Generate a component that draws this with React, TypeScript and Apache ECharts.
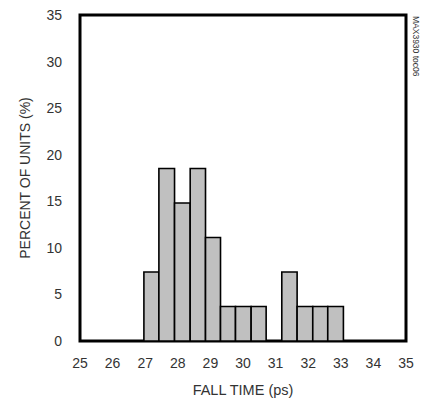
import React, { useEffect, useRef } from "react";
import * as echarts from "echarts";

// Histogram bin edges (ps) as drawn in the reference
const binEdges = [26.96, 27.42, 27.9, 28.38, 28.85, 29.31, 29.77, 30.25, 30.71, 31.19, 31.66, 32.14, 32.6, 33.08];
// Percent of units per bin (27 units total)
const percents = [7.41, 18.52, 14.81, 18.52, 11.11, 3.7, 3.7, 3.7, 0, 7.41, 3.7, 3.7, 3.7];

const xMin = 25;
const xMax = 35;
const yMin = 0;
const yMax = 35;

const FONT = "'Liberation Sans', Arial, sans-serif";

export default function App() {
  const ref = useRef<HTMLDivElement>(null);
  useEffect(() => {
    if (!ref.current) return;
    const chart = echarts.init(ref.current, null, { renderer: "svg" });
    const data = percents.map((v, i) => [binEdges[i], binEdges[i + 1], v]);
    chart.setOption({
      animation: false,
      backgroundColor: "#fff",
      grid: {
        left: 80,
        top: 15,
        width: 326,
        height: 326,
        show: true,
        borderColor: "#000",
        borderWidth: 3,
        backgroundColor: "transparent",
      },
      xAxis: {
        type: "value",
        min: xMin,
        max: xMax,
        interval: 1,
        axisLine: { show: false },
        axisTick: { show: false },
        splitLine: { show: false },
        axisLabel: { color: "#333", fontSize: 14, fontFamily: FONT, margin: 15 },
        name: "FALL TIME (ps)",
        nameLocation: "middle",
        nameGap: 41,
        nameTextStyle: { color: "#333", fontSize: 14.5, fontFamily: FONT },
      },
      yAxis: {
        type: "value",
        min: yMin,
        max: yMax,
        interval: 5,
        axisLine: { show: false },
        axisTick: { show: false },
        splitLine: { show: false },
        axisLabel: { color: "#333", fontSize: 14, fontFamily: FONT, margin: 18 },
        name: "PERCENT OF UNITS (%)",
        nameLocation: "middle",
        nameGap: 48,
        nameTextStyle: { color: "#333", fontSize: 14, fontFamily: FONT },
      },
      series: [
        {
          type: "custom",
          data,
          encode: { x: [0, 1], y: 2 },
          renderItem: (params: any, api: any) => {
            const v = api.value(2);
            if (!v) return null;
            const p0 = api.coord([api.value(0), 0]);
            const p1 = api.coord([api.value(1), v]);
            return {
              type: "rect",
              shape: { x: p0[0], y: p1[1], width: p1[0] - p0[0], height: p0[1] - p1[1] },
              style: { fill: "#c0c0c0", stroke: "#000", lineWidth: 1.6 },
            };
          },
        },
      ],
      graphic: [
        {
          type: "text",
          x: 416,
          y: 16,
          rotation: -Math.PI / 2,
          style: {
            text: "MAX3930 toc06",
            fontSize: 8.5,
            fontFamily: FONT,
            fill: "#333",
            align: "left",
            verticalAlign: "middle",
          },
        },
      ],
    });
    return () => chart.dispose();
  }, []);
  return (
    <div
      ref={ref}
      style={{ position: "fixed", left: 0, top: 0, width: 430, height: 403 }}
    />
  );
}
